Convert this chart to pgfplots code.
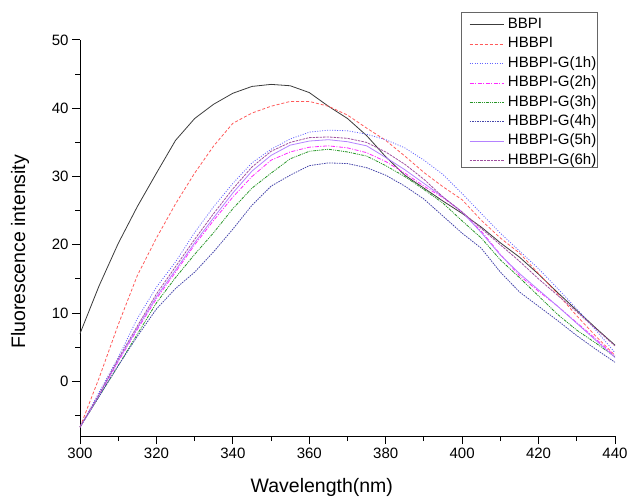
\documentclass[border=0pt]{standalone}
\usepackage{fontspec}
\setmainfont{Liberation Sans}
\usepackage{pgfplots}
\usepackage{pgfplotstable}
\pgfplotsset{compat=1.18}
\pgfplotstableread{
wl   bbpi  hbbpi g1    g2    g3    g4    g5    g6
300  7.0  -6.7  -6.7  -6.7  -6.7  -6.7  -6.7  -6.7
305  14.0  0.5  -1.6  -2.1  -2.2  -2.2  -2.0  -1.9
310  20.2  8.3   3.5   2.9   2.3   2.3   3.1   3.3
315  25.6  15.5  9.2   7.6   6.9   6.6   7.8   8.1
320  30.5  21.0  13.8  12.1  11.5  10.6  12.4  12.8
325  35.3  26.0  17.5  16.0  15.2  13.6  16.3  16.8
330  38.5  30.5  21.8  20.0  18.6  16.0  20.3  20.8
335  40.6  34.5  25.6  23.6  21.8  19.0  24.0  24.6
340  42.2  37.8  29.0  27.0  25.3  22.3  27.6  28.2
345  43.2  39.3  32.0  30.0  28.3  25.8  30.8  31.4
350  43.5  40.3  34.0  32.4  30.5  28.6  33.1  33.7
355  43.3  41.0  35.5  33.6  32.6  30.2  34.6  35.0
360  42.3  41.0  36.5  34.3  33.7  31.6  35.2  35.7
365  40.3  40.3  36.8  34.5  34.0  32.0  35.4  35.8
370  38.5  39.0  36.7  34.2  33.6  31.9  35.1  35.6
375  36.0  37.1  36.2  33.5  33.0  31.3  34.5  35.0
380  32.9  35.3  35.4  32.2  31.6  30.2  32.8  33.6
385  30.2  33.0  34.2  30.5  30.0  28.6  31.0  31.8
390  28.3  30.6  32.4  28.6  28.1  26.7  29.0  29.6
395  26.4  28.5  30.3  26.9  26.1  24.2  27.0  27.0
400  24.6  26.6  27.5  24.8  23.5  21.7  24.8  24.8
405  22.6  23.6  24.6  22.0  21.0  19.5  21.8  22.4
410  20.3  21.0  21.7  18.6  17.8  16.0  18.5  20.0
415  18.2  18.8  19.1  15.5  15.2  13.1  15.8  17.6
420  15.7  15.8  16.5  13.2  12.5  11.0  13.4  15.0
425  13.0  12.8  13.6  11.0  9.8   8.9   11.0  12.6
430  10.4  9.6   10.6  8.6   7.5   6.7   8.5   10.2
435  7.8   6.6   7.5   6.2   5.6   4.7   6.0   7.7
440  5.3   3.8   4.2   3.7   3.6   2.8   3.5   5.2
}\datatable
\definecolor{cblack}{RGB}{60,60,60}
\definecolor{cred}{RGB}{255,90,90}
\definecolor{cblue}{RGB}{100,100,255}
\definecolor{cmag}{RGB}{255,40,255}
\definecolor{cgreen}{RGB}{40,150,40}
\definecolor{cnavy}{RGB}{70,70,170}
\definecolor{cviolet}{RGB}{180,130,255}
\definecolor{cpurple}{RGB}{160,80,160}
\pgfplotsset{
  legend image code/.code={\draw[mark repeat=2,mark phase=2,#1] plot coordinates {(0pt,0pt) (17pt,0pt) (34pt,0pt)};}
}
\begin{document}
\begin{tikzpicture}
\useasboundingbox (0,0) rectangle (629pt,501pt);
\begin{axis}[
  at={(80pt,65pt)}, anchor=south west,
  scale only axis, width=535pt, height=396pt,
  xmin=300, xmax=440, ymin=-8, ymax=50,
  axis x line*=bottom, axis y line*=left,
  axis line style={line width=1pt},
  xtick={300,320,...,440}, minor xtick={310,330,...,430},
  ytick={0,10,...,50}, minor ytick={-5,5,...,45},
  tick align=outside,
  major tick length=8pt, minor tick length=5pt,
  every tick/.style={line width=1pt, black},
  /pgf/number format/assume math mode=true,
  /pgf/number format/.cd, 1000 sep={}, /pgfplots/.cd,
  ticklabel style={font=\fontsize{15}{18}\selectfont},
  xlabel={Wavelength(nm)}, ylabel={Fluorescence intensity},
  label style={font=\fontsize{19.5}{23}\selectfont},
  xlabel style={at={(axis description cs:0.452,-0.131)}, anchor=center},
  ylabel style={at={(axis description cs:-0.112,0.465)}, anchor=center, rotate=0},
  legend cell align=left,
  legend style={at={(0.7195,1.066)}, anchor=north west,
    draw=none, fill=white,
    font=\fontsize{15}{17}\selectfont,
    inner xsep=4pt, inner ysep=3pt, row sep=3.9pt,
    /tikz/every odd column/.append style={column sep=3pt},
    nodes={inner sep=1pt, text height=10.5pt, text depth=3pt}},
  clip=false,
]
\addplot[color=cblack, line width=0.8pt] table[x=wl,y=bbpi] {\datatable};
\addlegendentry{BBPI}
\addplot[color=cred, line width=0.8pt, dash pattern=on 3pt off 2pt] table[x=wl,y=hbbpi] {\datatable};
\addlegendentry{HBBPI}
\addplot[color=cblue, line width=0.8pt, dash pattern=on 1pt off 1.5pt] table[x=wl,y=g1] {\datatable};
\addlegendentry{HBBPI-G(1h)}
\addplot[color=cmag, line width=0.8pt, dash pattern=on 4pt off 1.5pt on 1pt off 1.5pt] table[x=wl,y=g2] {\datatable};
\addlegendentry{HBBPI-G(2h)}
\addplot[color=cgreen, line width=0.8pt, dash pattern=on 3pt off 1pt on 1pt off 1pt on 1pt off 1pt] table[x=wl,y=g3] {\datatable};
\addlegendentry{HBBPI-G(3h)}
\addplot[color=cnavy, line width=0.8pt, dash pattern=on 1.5pt off 1pt] table[x=wl,y=g4] {\datatable};
\addlegendentry{HBBPI-G(4h)}
\addplot[color=cviolet, line width=0.8pt] table[x=wl,y=g5] {\datatable};
\addlegendentry{HBBPI-G(5h)}
\addplot[color=cpurple, line width=0.8pt, dash pattern=on 2.5pt off 1pt] table[x=wl,y=g6] {\datatable};
\addlegendentry{HBBPI-G(6h)}
\end{axis}
\draw[black!60, line width=1pt] (461pt,333pt) rectangle (597pt,488pt);
\end{tikzpicture}
\end{document}
